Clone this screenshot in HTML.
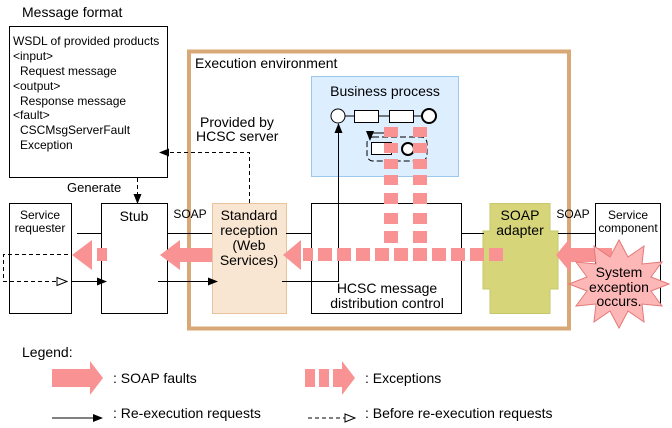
<!DOCTYPE html>
<html><head><meta charset="utf-8"><style>
html,body{margin:0;padding:0;background:#fff}
svg{display:block}
text{font-family:"Liberation Sans",sans-serif;font-size:14px;fill:#000}
.s{font-size:12px}
.m{font-size:13px}
</style></head><body>
<svg width="672" height="428" viewBox="0 0 672 428" xmlns="http://www.w3.org/2000/svg">
<defs>
<marker id="fa" markerWidth="10" markerHeight="8" refX="9" refY="4" orient="auto" markerUnits="userSpaceOnUse"><path d="M0,0 L10,4 L0,8 Z" fill="#000"/></marker>
<marker id="oa" markerWidth="12" markerHeight="10" refX="11" refY="5" orient="auto" markerUnits="userSpaceOnUse"><path d="M1,1 L11,5 L1,9 Z" fill="#fff" stroke="#000"/></marker>
</defs>

<text x="22" y="17">Message format</text>
<rect x="9.5" y="26.5" width="158" height="151" fill="#fff" stroke="#000"/>
<text x="13" y="45" class="s">WSDL of provided products</text>
<text x="13" y="60" class="s">&lt;input&gt;</text>
<text x="20" y="75" class="s">Request message</text>
<text x="13" y="90" class="s">&lt;output&gt;</text>
<text x="20" y="105" class="s">Response message</text>
<text x="13" y="119" class="s">&lt;fault&gt;</text>
<text x="20" y="134" class="s">CSCMsgServerFault</text>
<text x="20" y="149" class="s">Exception</text>
<text x="67" y="192" class="m">Generate</text>

<rect x="189" y="51.5" width="380" height="277" fill="none" stroke="#d9a877" stroke-width="4"/>
<text x="195" y="68">Execution environment</text>
<text x="200" y="127">Provided by</text>
<text x="196" y="141">HCSC server</text>

<rect x="311.5" y="76.5" width="147" height="100" fill="#ddeeff" stroke="#9cc8ee"/>
<text x="385" y="96" text-anchor="middle">Business process</text>
<circle cx="338" cy="116" r="7" fill="#fff" stroke="#000"/>
<line x1="345" y1="116" x2="354" y2="116" stroke="#000"/>
<rect x="354.5" y="110.5" width="24" height="12" fill="#fff" stroke="#000"/>
<line x1="379" y1="116" x2="389" y2="116" stroke="#000"/>
<rect x="389.5" y="110.5" width="24" height="12" fill="#fff" stroke="#000"/>
<line x1="414" y1="116" x2="422" y2="116" stroke="#000"/>
<circle cx="429" cy="116" r="7" fill="#fff" stroke="#000" stroke-width="2"/>
<rect x="367" y="137" width="60" height="24" rx="6" fill="none" stroke="#000" stroke-dasharray="6,3"/>
<rect x="371.5" y="142.5" width="20" height="12" fill="#fff" stroke="#000"/>
<circle cx="408" cy="149" r="6" fill="#fff" stroke="#000" stroke-width="2"/>
<path d="M386,133 L370,133 L370,140" fill="none" stroke="#000" marker-end="url(#fa)"/>

<rect x="9.5" y="203.5" width="62" height="110" fill="#fff" stroke="#000"/>
<text x="40" y="219" text-anchor="middle" class="s">Service</text>
<text x="40" y="232" text-anchor="middle" class="s">requester</text>
<rect x="101.5" y="203.5" width="66" height="110" fill="#fff" stroke="#000"/>
<text x="134" y="221" text-anchor="middle">Stub</text>
<text x="190" y="218" text-anchor="middle" class="s">SOAP</text>
<rect x="212.5" y="203.5" width="74" height="110" fill="#f9e6d2" stroke="#e8c39c"/>
<text x="249" y="220" text-anchor="middle">Standard</text>
<text x="249" y="235" text-anchor="middle">reception</text>
<text x="249" y="250" text-anchor="middle">(Web</text>
<text x="249" y="265" text-anchor="middle">Services)</text>
<rect x="311.5" y="203.5" width="150" height="110" fill="#fff" stroke="#000"/>
<text x="387" y="293" text-anchor="middle">HCSC message</text>
<text x="387" y="308" text-anchor="middle">distribution control</text>
<path d="M490,203.5 H550 V231 H558 V289 H550 V313.5 H490 V289 H483 V231 H490 Z" fill="#d6d57a" stroke="#c5c76a"/>
<text x="520" y="220" text-anchor="middle">SOAP</text>
<text x="520" y="235" text-anchor="middle">adapter</text>
<text x="573" y="218" text-anchor="middle" class="s">SOAP</text>
<rect x="595.5" y="203.5" width="65" height="100" fill="#fff" stroke="#000"/>
<text x="628" y="219" text-anchor="middle" class="s">Service</text>
<text x="628" y="232" text-anchor="middle" class="s">component</text>

<g stroke="#000">
<line x1="77" y1="233.5" x2="101" y2="233.5"/>
<line x1="167" y1="233.5" x2="212" y2="233.5"/>
<line x1="286" y1="233.5" x2="311" y2="233.5"/>
<line x1="461" y1="233.5" x2="484" y2="233.5"/>
<line x1="558" y1="233.5" x2="595" y2="233.5"/>
</g>
<line x1="72" y1="281.5" x2="106" y2="281.5" stroke="#000" marker-end="url(#fa)"/>
<line x1="158" y1="281.5" x2="217" y2="281.5" stroke="#000" marker-end="url(#fa)"/>
<path d="M282,281.5 H338.5 V124" fill="none" stroke="#000" marker-end="url(#fa)"/>
<path d="M68,254.5 H3.5 V281.5 H67" fill="none" stroke="#000" stroke-dasharray="4,3" marker-end="url(#oa)"/>
<path d="M249.5,203 V152.5 H160" fill="none" stroke="#000" stroke-dasharray="4,3" marker-end="url(#fa)"/>
<path d="M137.5,178 V203" fill="none" stroke="#000" stroke-dasharray="4,3" marker-end="url(#fa)"/>

<g fill="#f99393">
<rect x="384" y="127" width="14" height="10"/><rect x="413" y="127" width="14" height="10"/>
<rect x="384" y="143" width="14" height="10"/><rect x="413" y="143" width="14" height="10"/>
<rect x="384" y="159" width="14" height="10"/><rect x="413" y="159" width="14" height="10"/>
<rect x="384" y="175" width="14" height="10"/><rect x="413" y="175" width="14" height="10"/>
<rect x="384" y="193" width="14" height="11"/><rect x="413" y="193" width="14" height="11"/>
<rect x="384" y="213" width="14" height="11"/><rect x="413" y="213" width="14" height="11"/>
<rect x="384" y="231" width="14" height="12"/><rect x="413" y="231" width="14" height="12"/>
<rect x="303" y="248" width="10" height="13"/>
<rect x="318" y="248" width="14" height="13"/>
<rect x="337" y="248" width="14" height="13"/>
<rect x="356" y="248" width="14" height="13"/>
<rect x="375" y="248" width="14" height="13"/>
<rect x="394" y="248" width="14" height="13"/>
<rect x="413" y="248" width="14" height="13"/>
<rect x="432" y="248" width="14" height="13"/>
<rect x="451" y="248" width="14" height="13"/>
<rect x="470" y="248" width="14" height="13"/>
<rect x="489" y="248" width="14" height="13"/>
<path d="M283,255 L301,240 L301,270 Z"/>
<path d="M160,255 L180,240 L180,248 L212,248 L212,262 L180,262 L180,270 Z"/>
<path d="M72,255 L92,240 L92,270 Z"/>
<rect x="97" y="248" width="10" height="13"/>
<path d="M556,255 L570,238 L570,248 L612,248 L612,262 L570,262 L570,272 Z"/>
<path d="M52,369 H90 V361 L103,378 L90,395 V387 H52 Z"/>
<rect x="305" y="369" width="10" height="18"/>
<rect x="319" y="369" width="10" height="18"/>
<path d="M333,369 H342 V361 L355,378 L342,395 V387 H333 Z"/>
</g>
<polygon points="669,284 651,291 662,306 642,304 644,322 628,311 619,328 610,311 594,322 596,304 576,306 587,291 569,284 587,277 576,262 596,264 594,246 610,257 619,240 628,257 644,246 642,264 662,262 651,277" fill="#fdb7b7" stroke="#e47878"/>
<text x="619" y="277" text-anchor="middle">System</text>
<text x="619" y="292" text-anchor="middle">exception</text>
<text x="619" y="306" text-anchor="middle">occurs.</text>

<text x="22" y="357">Legend:</text>
<text x="113" y="383">: SOAP faults</text>
<text x="365" y="383">: Exceptions</text>
<line x1="52" y1="418" x2="102" y2="418" stroke="#000" marker-end="url(#fa)"/>
<text x="113" y="418">: Re-execution requests</text>
<line x1="308" y1="418" x2="355" y2="418" stroke="#000" stroke-dasharray="4,3" marker-end="url(#oa)"/>
<text x="365" y="418">: Before re-execution requests</text>
</svg>
</body></html>
